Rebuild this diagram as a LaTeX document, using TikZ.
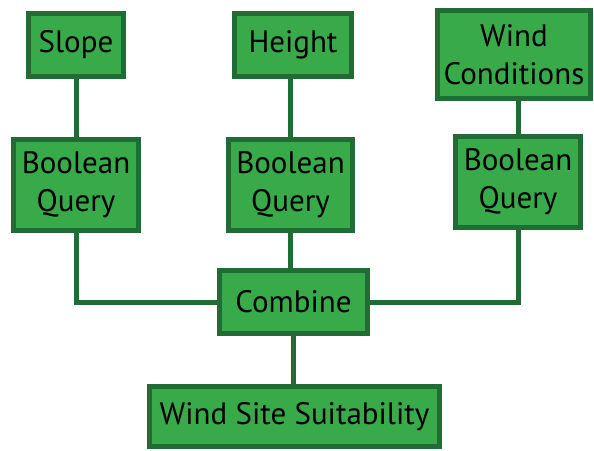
\documentclass[tikz,border=0pt]{standalone}
\usepackage{fontspec}
\setmainfont{PT Sans}
\definecolor{boxfill}{RGB}{57,170,74}
\definecolor{boxline}{RGB}{33,107,52}
\begin{document}
\begin{tikzpicture}[x=1pt,y=-1pt,
  box/.style={draw=boxline,fill=boxfill,line width=5pt,inner sep=0pt,
    align=center,font=\fontsize{31}{38}\selectfont,text=black},
  link/.style={draw=boxline,line width=5pt}]
\useasboundingbox (0,0) rectangle (594,450);
\node[box,minimum width=95pt,minimum height=63pt] (slope) at (76,45) {Slope};
\node[box,minimum width=117pt,minimum height=63pt] (height) at (293,45) {Height};
\node[box,minimum width=153pt,minimum height=88pt] (wind) at (514,54.5) {Wind\\Conditions};
\node[box,minimum width=125pt,minimum height=91pt] (bq1) at (76,185) {Boolean\\Query};
\node[box,minimum width=124pt,minimum height=91pt] (bq2) at (290.5,185) {Boolean\\Query};
\node[box,minimum width=125pt,minimum height=91pt] (bq3) at (518,182) {Boolean\\Query};
\node[box,minimum width=148pt,minimum height=63pt] (comb) at (293.5,302) {Combine};
\node[box,minimum width=290pt,minimum height=60pt] (wss) at (294.5,416.5) {Wind Site Suitability};
\draw[link] (slope.south) -- (bq1.north);
\draw[link] (bq2.north) -- (bq2.north |- height.south);
\draw[link] (bq3.north) -- (bq3.north |- wind.south);
\draw[link] (bq2.south) -- (bq2.south |- comb.north);
\draw[link] (comb.south) -- (comb.south |- wss.north);
\draw[link] (bq1.south) |- (comb.west);
\draw[link] (bq3.south) |- (comb.east);
\end{tikzpicture}
\end{document}
